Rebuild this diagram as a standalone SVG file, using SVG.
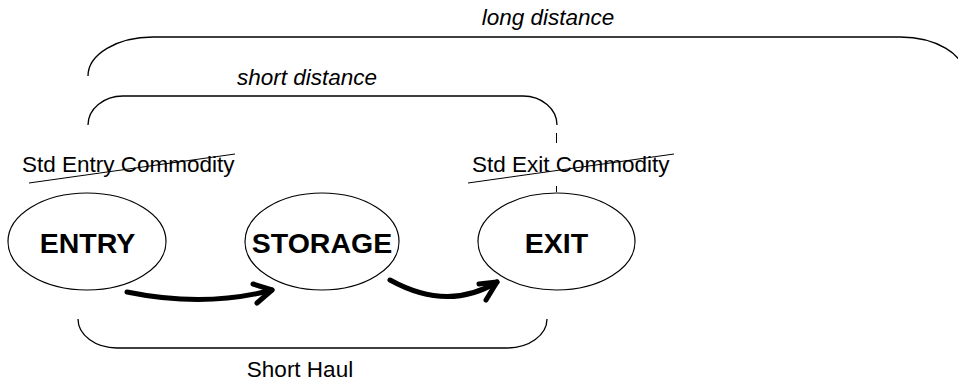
<svg xmlns="http://www.w3.org/2000/svg" width="958" height="383" viewBox="0 0 958 383">
<defs>
<style>
.lbl{font-family:"Liberation Sans",Arial,sans-serif;font-size:22.5px;fill:#000}
.it{font-style:italic}
.node{font-family:"Liberation Sans",Arial,sans-serif;font-size:28.5px;font-weight:bold;fill:#000;text-anchor:middle}
.el{fill:#fff;stroke:#000;stroke-width:1.2}
.br{fill:none;stroke:#000;stroke-width:1.3}
.arr{fill:none;stroke:#000;stroke-width:5;stroke-linecap:round;stroke-linejoin:round}
.thin{fill:none;stroke:#000;stroke-width:1}
</style>
</defs>
<rect width="958" height="383" fill="#fff"/>
<g id="brackets">
<path class="br" d="M88,76 A65,39 0 0 1 153,37 L900,37 A65,39 0 0 1 965,76"/>
<path class="br" d="M88,125 A35,29 0 0 1 123,96 L523,96 A34,29 0 0 1 557,125"/>
<path class="br" d="M78,319 A39,29 0 0 0 117,348 L507,348 A40,29 0 0 0 547,319"/>
<line class="thin" x1="556.5" y1="133" x2="556.5" y2="143"/>
<line class="thin" x1="556.5" y1="186" x2="556.5" y2="192"/>
</g>
<g id="labels">
<text class="lbl it" x="548" y="25" text-anchor="middle">long distance</text>
<text class="lbl it" x="307" y="85" text-anchor="middle">short distance</text>
<text class="lbl" x="22" y="172">Std Entry Commodity</text>
<line class="thin" x1="29" y1="183" x2="235" y2="154"/>
<text class="lbl" x="472" y="172">Std Exit Commodity</text>
<line class="thin" x1="468" y1="183" x2="674" y2="154"/>
<text class="lbl" x="300" y="377" text-anchor="middle">Short Haul</text>
</g>
<g id="entry">
<ellipse class="el" cx="87" cy="241.5" rx="79" ry="48.5"/>
<text class="node" x="87.5" y="253">ENTRY</text>
</g>
<g id="storage">
<ellipse class="el" cx="322" cy="241.5" rx="77" ry="48.5"/>
<text class="node" x="322" y="253">STORAGE</text>
</g>
<g id="exit">
<ellipse class="el" cx="556.5" cy="241.5" rx="78.5" ry="48.5"/>
<text class="node" x="556.5" y="253">EXIT</text>
</g>
<g id="connectors">
<path class="arr" d="M127,292 Q205,308 272,290"/>
<path class="arr" d="M253,284 L272,290 L257,303"/>
<path class="arr" d="M390,280 Q448,312 497,282"/>
<path class="arr" d="M479,284 L497,282 L486,300"/>
</g>
</svg>
